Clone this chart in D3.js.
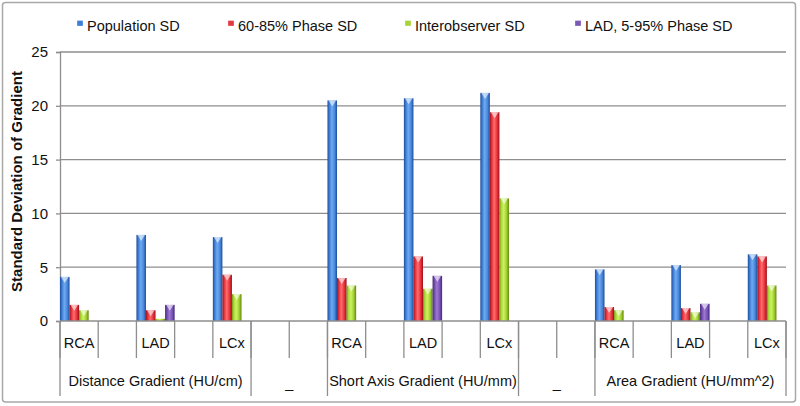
<!DOCTYPE html>
<html><head><meta charset="utf-8">
<script src="https://cdn.jsdelivr.net/npm/d3@7"></script>
<style>
html,body{margin:0;padding:0;background:#fff;}
svg{display:block;font-family:"Liberation Sans",Arial,sans-serif;}
</style></head>
<body><svg id="chart" width="800" height="406"></svg>
<script>
// ---- data ----
const slotLabels = ["RCA","","LAD","","LCx","","","RCA","","LAD","","LCx","","","RCA","","LAD","","LCx"];
const groupLabels = ["Distance Gradient (HU/cm)","_","Short Axis Gradient (HU/mm)","_","Area Gradient (HU/mm^2)"];
const groupSpans = [5,2,5,2,5];
const seriesNames = ["Population SD","60-85% Phase SD","Interobserver SD","LAD, 5-95% Phase SD"];
const populationSD  = [4.1,null,8.0,null,7.8,null,null,20.5,null,20.7,null,21.2,null,null,4.8,null,5.2,null,6.2];
const phaseSD       = [1.5,null,1.0,null,4.3,null,null,4.0,null,6.0,null,19.4,null,null,1.3,null,1.2,null,6.0];
const interobsSD    = [1.0,null,0.2,null,2.5,null,null,3.3,null,3.0,null,11.4,null,null,1.0,null,0.8,null,3.3];
const lad595SD      = [null,null,1.5,null,null,null,null,null,null,4.2,null,null,null,null,null,null,1.6,null,null];
const yTicks = [0,5,10,15,20,25];

const seriesValues = [populationSD, phaseSD, interobsSD, lad595SD];
const gradStops = [
  ["#1d4c98","#3a78d0","#6eaaf2","#4a88dc","#1d4c98"],
  ["#9c0f18","#e0303a","#ff6c6c","#e8343c","#9c0f18"],
  ["#728f10","#a8d838","#ccf262","#a0d030","#66820e"],
  ["#46287a","#7048a8","#9c7ad2","#7a52b8","#46287a"]
];
const legendColors = ["#3d7fd8","#e23a40","#a8d43a","#7a58b4"];
const legendX = [77,228,405,575];

// ---- layout ----
const svg = d3.select("#chart");
const pLeft = 60, pRight = 786, pTop = 52, pBottom = 321;

svg.append("rect").attr("x",2.5).attr("y",2.5).attr("width",793).attr("height",399.5)
  .attr("rx",3).attr("fill","#fff").attr("stroke","#a8a8a8").attr("stroke-width",1.5);

const defs = svg.append("defs");
gradStops.forEach((st,i)=>{
  const g = defs.append("linearGradient").attr("id","g"+i).attr("x1","0").attr("x2","1").attr("y1","0").attr("y2","0");
  [0,0.18,0.45,0.75,1].forEach((o,j)=>g.append("stop").attr("offset",o).attr("stop-color",st[j]));
});

const x = d3.scaleBand().domain(d3.range(slotLabels.length)).range([pLeft,pRight]).padding(0);
const x1 = d3.scaleBand().domain(d3.range(seriesNames.length)).range([0,x.bandwidth()]).padding(0);
const y = d3.scaleLinear().domain([0,25]).range([pBottom,pTop]);

// gridlines
svg.append("g").selectAll("line").data(yTicks.filter(d=>d>0)).join("line")
  .attr("x1",pLeft).attr("x2",pRight).attr("y1",d=>y(d)).attr("y2",d=>y(d))
  .attr("stroke","#8e8e8e").attr("stroke-width",1.3);

// y axis
const yAxis = svg.append("g").attr("transform",`translate(${pLeft},0)`)
  .call(d3.axisLeft(y).tickValues(yTicks).tickSize(4).tickPadding(8));
yAxis.select(".domain").attr("stroke","#8e8e8e").attr("stroke-width",1.3);
yAxis.selectAll(".tick line").attr("stroke","#8e8e8e").attr("stroke-width",1.3);
yAxis.selectAll(".tick text").attr("font-size","15px").attr("fill","#111")
  .attr("font-family","Liberation Sans, Arial, sans-serif");

svg.append("text").attr("transform",`translate(22,${(pTop+pBottom)/2 - 5}) rotate(-90)`)
  .attr("text-anchor","middle").attr("font-size","15px").attr("font-weight","bold").attr("fill","#111")
  .text("Standard Deviation of Gradient");

// bars
seriesValues.forEach((vals,si)=>{
  const g = svg.append("g");
  const data = vals.map((v,i)=>({v,i})).filter(d=>d.v!==null);
  g.selectAll("rect").data(data).join("rect")
    .attr("x",d=>x(d.i)+x1(si)).attr("width",x1.bandwidth())
    .attr("y",d=>y(d.v)).attr("height",d=>y(0)-y(d.v))
    .attr("fill",`url(#g${si})`);
  g.selectAll("path").data(data.filter(d=>y(0)-y(d.v)>4)).join("path")
    .attr("d",d=>{const x0=x(d.i)+x1(si)+1, w=x1.bandwidth()-2, yy=y(d.v);
      return `M${x0},${yy}L${x0+w},${yy}L${x0+w/2},${yy+6}Z`;})
    .attr("fill","#fff").attr("opacity",0.6);
});

// x axis line
svg.append("line").attr("x1",pLeft).attr("x2",pRight).attr("y1",pBottom).attr("y2",pBottom)
  .attr("stroke","#8e8e8e").attr("stroke-width",1.3);

// category row 1
const row1Bottom = 358, row2Bottom = 396;
const bounds1 = d3.range(slotLabels.length+1).map(i=> i<slotLabels.length ? x(i) : pRight);
svg.append("g").selectAll("line").data(bounds1).join("line")
  .attr("x1",d=>d).attr("x2",d=>d).attr("y1",pBottom).attr("y2",row1Bottom)
  .attr("stroke","#8e8e8e").attr("stroke-width",1.3);
svg.append("g").selectAll("text").data(slotLabels.map((t,i)=>({t,i})).filter(d=>d.t)).join("text")
  .attr("x",d=>x(d.i)+x.bandwidth()/2).attr("y",348).attr("text-anchor","middle")
  .attr("font-size","14.5px").attr("fill","#111").text(d=>d.t);

// category row 2
let acc = 0;
const groups = groupLabels.map((t,i)=>{const s=acc; acc+=groupSpans[i]; return {t,s,e:acc};});
const bounds2 = [pLeft].concat(groups.map(g=> g.e<slotLabels.length ? x(g.e) : pRight));
svg.append("g").selectAll("line").data(bounds2).join("line")
  .attr("x1",d=>d).attr("x2",d=>d).attr("y1",pBottom).attr("y2",row2Bottom)
  .attr("stroke","#8e8e8e").attr("stroke-width",1.3);
svg.append("g").selectAll("text").data(groups).join("text")
  .attr("x",g=>(x(g.s) + (g.e<slotLabels.length?x(g.e):pRight))/2)
  .attr("y",g=>g.t==="_"?388:386).attr("text-anchor","middle").attr("font-size","14.5px").attr("fill","#111")
  .text(g=>g.t);

// legend
seriesNames.forEach((n,i)=>{
  const g = svg.append("g");
  g.append("rect").attr("x",legendX[i]).attr("y",20.5).attr("width",6).attr("height",5.5)
    .attr("fill",legendColors[i]).attr("stroke","#fff").attr("stroke-width",0.3);
  g.append("text").attr("x",legendX[i]+10).attr("y",31).attr("font-size","14.5px").attr("fill","#111").text(n);
});
</script></body></html>
